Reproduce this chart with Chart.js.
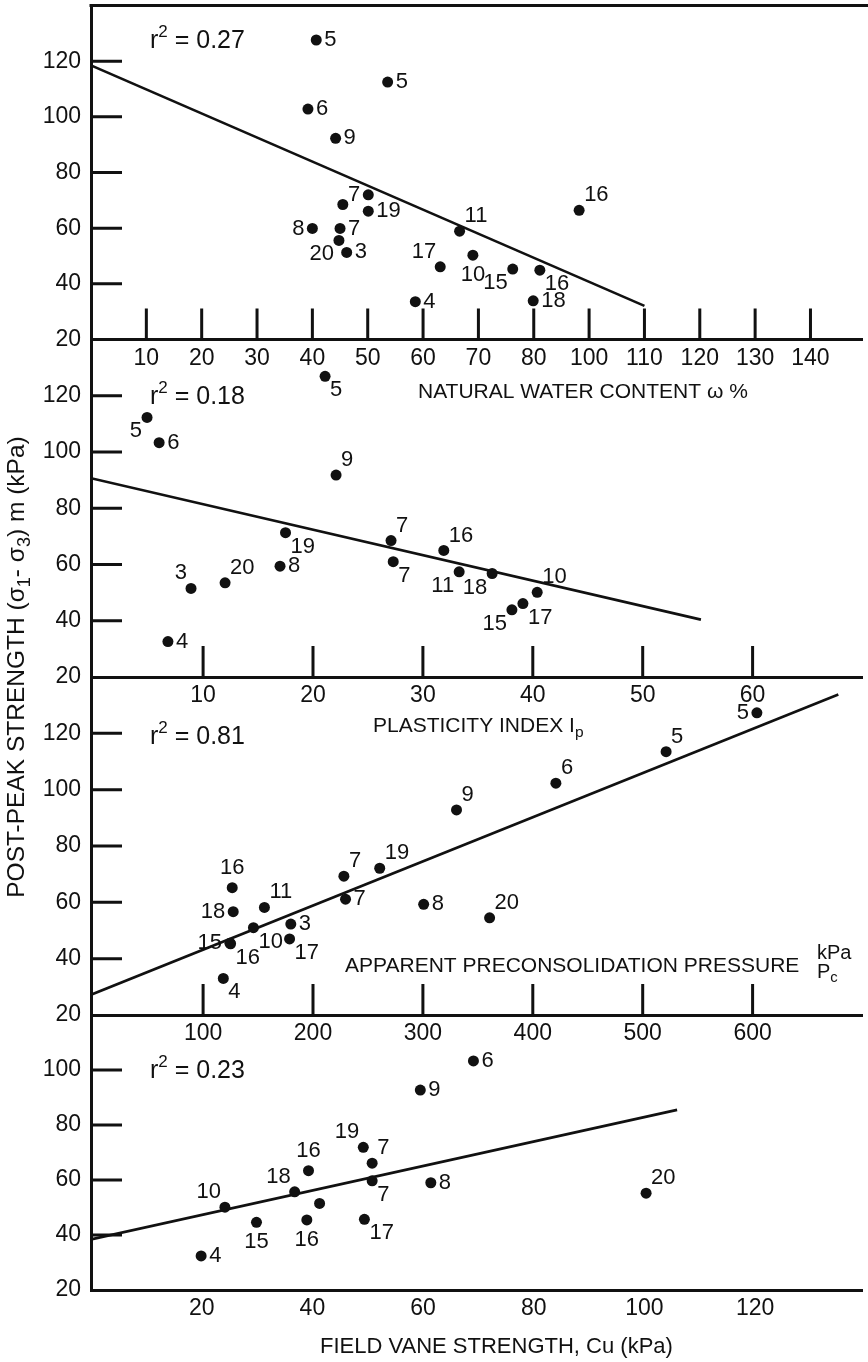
<!DOCTYPE html>
<html>
<head>
<meta charset="utf-8">
<script src="https://cdn.jsdelivr.net/npm/chart.js@4.4.1/dist/chart.umd.min.js"></script>
<style>
  html, body { margin: 0; padding: 0; background: #fff; }
  #wrap { position: relative; width: 868px; height: 1362px; }
  #wrap canvas { position: absolute; left: 0; top: 0; }
</style>
</head>
<body>
<div id="wrap">
  <canvas id="c1" width="868" height="1362"></canvas>
  <canvas id="c2" width="868" height="1362"></canvas>
  <canvas id="c3" width="868" height="1362"></canvas>
  <canvas id="c4" width="868" height="1362"></canvas>
</div>
<script>
// ---- data ----
// panel 1: natural water content (x in axis units, the printed scale skips 90)
const wcIds = ['5','5','6','9','7','','19','8','7','20','3','17','11','10','4','15','16','18','16'];
const wcX   = [40.7,53.6,39.2,44.2,50.1,45.5,50.1,40.0,45.0,44.8,46.2,63.1,66.6,69.0,58.6,76.2,81.1,79.9,88.2];
const wcY   = [127.6,112.5,102.8,92.3,72.0,68.5,66.1,59.9,59.9,55.6,51.3,46.1,58.9,50.3,33.6,45.3,44.9,33.9,66.4];
const wcFitX = [0, 100];
const wcFitY = [118.5, 32.1];
const wcTicks = [10,20,30,40,50,60,70,80,90,100,110,120,130];
const wcTickLabels = ['10','20','30','40','50','60','70','80','100','110','120','130','140'];

// panel 2: plasticity index
const piIds = ['5','5','6','9','19','8','20','3','4','7','7','16','11','18','10','17','15'];
const piX   = [21.1,4.9,6.0,22.1,17.5,17.0,12.0,8.9,6.8,27.1,27.3,31.9,33.3,36.3,40.4,39.1,38.1];
const piY   = [126.9,112.3,103.3,91.8,71.3,59.4,53.5,51.5,32.6,68.5,61.0,65.0,57.4,56.8,50.1,46.1,43.9];
const piFitX = [-0.2, 55.3];
const piFitY = [90.7, 40.4];
const piTicks = [10,20,30,40,50,60];
const piTickLabels = ['10','20','30','40','50','60'];

// panel 3: apparent preconsolidation pressure
const pcIds = ['16','18','11','10','15','16','3','17','4','7','7','19','8','20','9','6','5','5'];
const pcX   = [126.5,127.4,155.8,145.8,124.4,125.0,179.8,178.7,118.4,228.1,229.6,260.7,300.7,360.7,330.6,421.0,521.3,603.9];
const pcY   = [65.2,56.7,58.2,51.0,45.5,45.3,52.3,47.0,33.0,69.3,61.1,72.1,59.3,54.5,92.8,102.3,113.5,127.3];
const pcFitX = [-2, 678];
const pcFitY = [27.2, 133.8];
const pcTicks = [100,200,300,400,500,600];
const pcTickLabels = ['100','200','300','400','500','600'];

// panel 4: field vane strength
const fvIds = ['10','4','15','18','16','16','','19','7','7','17','8','9','6','20'];
const fvX   = [24.2,19.9,29.9,36.8,39.3,39.0,41.3,49.2,50.8,50.8,49.4,61.4,59.5,69.1,100.3];
const fvY   = [50.1,32.4,44.6,55.7,63.4,45.5,51.5,71.9,66.1,59.7,45.7,59.0,92.7,103.3,55.2];
const fvFitX = [0, 105.9];
const fvFitY = [38.4, 85.5];
const fvTicks = [20,40,60,80,100,120];
const fvTickLabels = ['20','40','60','80','100','120'];

const yTicksTall = [20,40,60,80,100,120];
const yTicksShort = [20,40,60,80,100];

// where each point's number sits
const wcPos = ['r','r','r','r','l','','r','l','r','dl','r','ul','ur','d','r','dl','dr','r','ur'];
const piPos = ['dr','dl','r','ur','dr','r','ur','ul','r','ur','dr','ur','dl','dl','ur','dr','dl'];
const pcPos = ['u','l','ur','dr','l','dr','r','dr','dr','ur','r','ur','r','ur','ur','ur','ur','l'];
const fvPos = ['ul','r','d','ul','u','d','','ul','ur','dr','dr','r','r','r','ur'];

// ---- drawing ----
const W = 868, H = 1362;
const FONT = '"Liberation Sans", Arial, Helvetica, sans-serif';
const INK = '#111';
const font = s => s + 'px ' + FONT;

const offs = {
  r:  [8, 0, 'left'],   l:  [-8, 0, 'right'],
  ur: [5, -15, 'left'], ul: [-4, -15, 'right'],
  dr: [5, 14, 'left'],  dl: [-5, 14, 'right'],
  u:  [0, -20, 'center'], d: [0, 20, 'center']
};

// text with sub/superscripts: parts = [[text, 'sub'|'sup'|undefined], ...]
function rich(ctx, parts, x, y, size, align, rot) {
  ctx.save();
  ctx.translate(x, y);
  if (rot) ctx.rotate(rot * Math.PI / 180);
  const sz = p => p[1] === 'sub' ? size * 0.74 : p[1] ? size * 0.68 : size;
  let w = 0;
  parts.forEach(p => { ctx.font = font(sz(p)); w += ctx.measureText(p[0]).width; });
  let cx = align === 'center' ? -w / 2 : 0;
  ctx.textAlign = 'left';
  ctx.textBaseline = 'middle';
  parts.forEach(p => {
    ctx.font = font(sz(p));
    const dy = p[1] === 'sub' ? size * 0.32 : p[1] === 'sup' ? -size * 0.36 : 0;
    ctx.fillText(p[0], cx, dy);
    cx += ctx.measureText(p[0]).width;
  });
  ctx.restore();
}

function decor(cfg) {
  return {
    id: 'decor',
    afterDraw(chart) {
      const ctx = chart.ctx, a = chart.chartArea;
      const xs = chart.scales.x, ys = chart.scales.y;
      ctx.save();
      ctx.strokeStyle = INK;
      ctx.lineWidth = 3;
      ctx.beginPath();
      cfg.yTicks.slice(1).forEach(v => {
        const y = ys.getPixelForValue(v);
        ctx.moveTo(a.left, y); ctx.lineTo(a.left + 31, y);
      });
      cfg.xMarks.forEach(v => {
        const x = xs.getPixelForValue(v);
        ctx.moveTo(x, a.bottom); ctx.lineTo(x, a.bottom - 31);
      });
      if (cfg.topLine) { ctx.moveTo(a.left - 1.5, a.top); ctx.lineTo(W, a.top); }
      ctx.stroke();

      ctx.fillStyle = INK;
      ctx.textBaseline = 'middle';
      ctx.font = font(22);
      const pts = chart.getDatasetMeta(0).data;
      cfg.ids.forEach((t, i) => {
        if (!t) return;
        const o = offs[cfg.pos[i]];
        ctx.textAlign = o[2];
        ctx.fillText(t, pts[i].x + o[0], pts[i].y + o[1]);
      });
      cfg.texts.forEach(t => rich(ctx, t.parts, t.x, t.y, t.size, t.align, t.rot));
      ctx.restore();
    }
  };
}

function panel(id, cfg) {
  const tickFont = { family: FONT, size: 23 };
  return new Chart(document.getElementById(id), {
    type: 'scatter',
    data: {
      datasets: [
        {
          data: cfg.x.map((v, i) => ({ x: v, y: cfg.y[i] })),
          pointRadius: 5.5, pointBackgroundColor: INK, pointBorderWidth: 0
        },
        {
          data: cfg.fitX.map((v, i) => ({ x: v, y: cfg.fitY[i] })),
          showLine: true, borderColor: INK, borderWidth: 2.6, pointRadius: 0
        }
      ]
    },
    options: {
      responsive: false,
      animation: false,
      events: [],
      layout: { padding: { top: cfg.top, bottom: H - cfg.bottom - 60, left: 0, right: 0 } },
      plugins: { legend: { display: false }, tooltip: { enabled: false } },
      scales: {
        x: {
          type: 'linear', min: cfg.xMin, max: cfg.xMax,
          afterBuildTicks: s => { s.ticks = cfg.xTicks.map(v => ({ value: v })); },
          afterFit: s => { s.height = 60; s.paddingLeft = 0; s.paddingRight = 0; },
          ticks: {
            callback: (v, i) => cfg.xLabels[i],
            color: INK, font: tickFont, padding: 5, maxRotation: 0, autoSkip: false
          },
          grid: { drawOnChartArea: false, drawTicks: false },
          border: { display: true, color: INK, width: 3 }
        },
        y: {
          type: 'linear', min: cfg.yMin, max: cfg.yMax,
          afterBuildTicks: s => { s.ticks = cfg.yTicks.map(v => ({ value: v })); },
          afterFit: s => { s.width = 91; s.paddingTop = 0; s.paddingBottom = 0; },
          ticks: { color: INK, font: tickFont, padding: 10 },
          grid: { drawOnChartArea: false, drawTicks: false },
          border: { display: true, color: INK, width: 3 }
        }
      }
    },
    plugins: [decor(cfg)]
  });
}

panel('c1', {
  ids: wcIds, x: wcX, y: wcY, pos: wcPos, fitX: wcFitX, fitY: wcFitY,
  xMin: 0, xMax: 139.4, xTicks: wcTicks, xLabels: wcTickLabels, xMarks: wcTicks,
  yMin: 20, yMax: 140, yTicks: yTicksTall, top: 4, bottom: 339.5, topLine: true,
  texts: [
    { parts: [['r'], ['2', 'sup'], [' = 0.27']], x: 150, y: 41, size: 25 },
    { parts: [['NATURAL WATER CONTENT ω %']], x: 418, y: 392, size: 21 }
  ]
});

panel('c2', {
  ids: piIds, x: piX, y: piY, pos: piPos, fitX: piFitX, fitY: piFitY,
  xMin: -0.2, xMax: 70, xTicks: piTicks, xLabels: piTickLabels, xMarks: piTicks,
  yMin: 20, yMax: 140, yTicks: yTicksTall, top: 339.5, bottom: 677,
  texts: [
    { parts: [['r'], ['2', 'sup'], [' = 0.18']], x: 150, y: 397, size: 25 },
    { parts: [['PLASTICITY INDEX I'], ['p', 'sub']], x: 373, y: 726, size: 21 },
    { parts: [['POST-PEAK STRENGTH (σ'], ['1', 'sub'], ['- σ'], ['3', 'sub'], [') m (kPa)']],
      x: 17, y: 667, size: 24.5, align: 'center', rot: -90 }
  ]
});

panel('c3', {
  ids: pcIds, x: pcX, y: pcY, pos: pcPos, fitX: pcFitX, fitY: pcFitY,
  xMin: -2, xMax: 700, xTicks: pcTicks, xLabels: pcTickLabels, xMarks: pcTicks,
  yMin: 20, yMax: 140, yTicks: yTicksTall, top: 677, bottom: 1015,
  texts: [
    { parts: [['r'], ['2', 'sup'], [' = 0.81']], x: 150, y: 737, size: 25 },
    { parts: [['APPARENT PRECONSOLIDATION PRESSURE']], x: 345, y: 966, size: 21 },
    { parts: [['kPa']], x: 817, y: 953, size: 20 },
    { parts: [['P'], ['c', 'sub']], x: 817, y: 972, size: 20 }
  ]
});

panel('c4', {
  ids: fvIds, x: fvX, y: fvY, pos: fvPos, fitX: fvFitX, fitY: fvFitY,
  xMin: 0, xMax: 139.4, xTicks: fvTicks, xLabels: fvTickLabels, xMarks: [],
  yMin: 20, yMax: 120, yTicks: yTicksShort, top: 1015, bottom: 1290,
  texts: [
    { parts: [['r'], ['2', 'sup'], [' = 0.23']], x: 150, y: 1071, size: 25 },
    { parts: [['FIELD VANE STRENGTH, Cu (kPa)']], x: 320, y: 1347, size: 22 }
  ]
});
</script>
</body>
</html>
